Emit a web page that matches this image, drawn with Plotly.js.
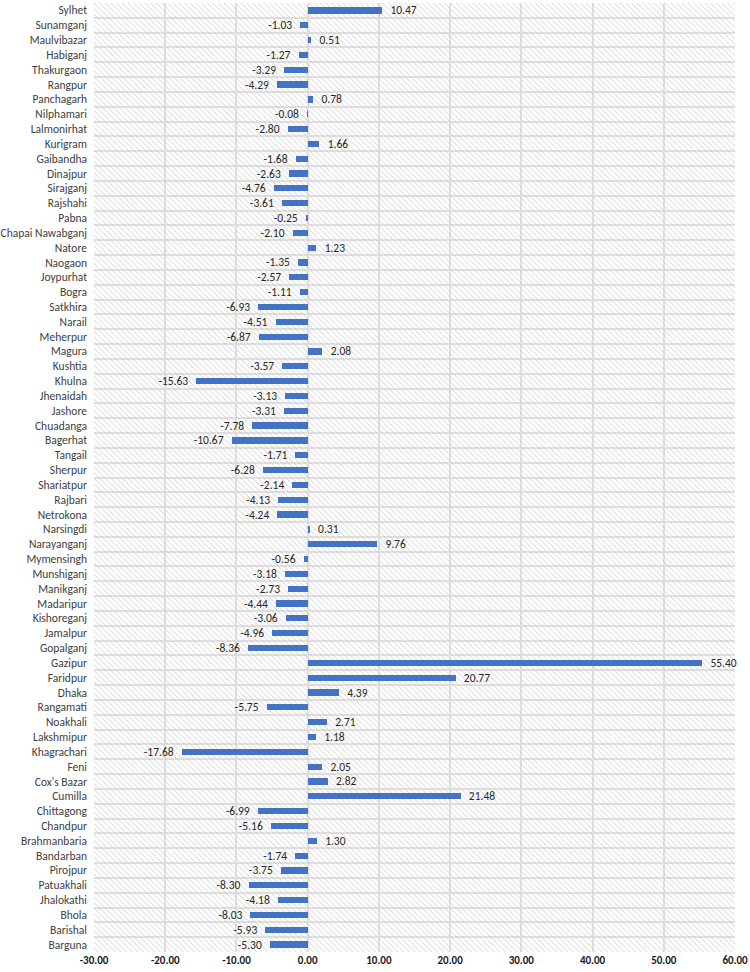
<!DOCTYPE html>
<html>
<head>
<meta charset="utf-8">
<script src="https://cdn.plot.ly/plotly-3.0.1.min.js"></script>
<style>
  html, body { margin: 0; padding: 0; background: #fff; }
  #chart { width: 750px; height: 972px; }
</style>
</head>
<body>
<div id="chart"></div>
<script>
// districts top to bottom, as in the picture
const districts = [
  "Sylhet", "Sunamganj", "Maulvibazar", "Habiganj", "Thakurgaon", "Rangpur",
  "Panchagarh", "Nilphamari", "Lalmonirhat", "Kurigram", "Gaibandha", "Dinajpur",
  "Sirajganj", "Rajshahi", "Pabna", "Chapai Nawabganj", "Natore", "Naogaon",
  "Joypurhat", "Bogra", "Satkhira", "Narail", "Meherpur", "Magura", "Kushtia",
  "Khulna", "Jhenaidah", "Jashore", "Chuadanga", "Bagerhat", "Tangail", "Sherpur",
  "Shariatpur", "Rajbari", "Netrokona", "Narsingdi", "Narayanganj", "Mymensingh",
  "Munshiganj", "Manikganj", "Madaripur", "Kishoreganj", "Jamalpur", "Gopalganj",
  "Gazipur", "Faridpur", "Dhaka", "Rangamati", "Noakhali", "Lakshmipur",
  "Khagrachari", "Feni", "Cox's Bazar", "Cumilla", "Chittagong", "Chandpur",
  "Brahmanbaria", "Bandarban", "Pirojpur", "Patuakhali", "Jhalokathi", "Bhola",
  "Barishal", "Barguna"
];

const values = [
  10.47, -1.03, 0.51, -1.27, -3.29, -4.29,
  0.78, -0.08, -2.80, 1.66, -1.68, -2.63,
  -4.76, -3.61, -0.25, -2.10, 1.23, -1.35,
  -2.57, -1.11, -6.93, -4.51, -6.87, 2.08, -3.57,
  -15.63, -3.13, -3.31, -7.78, -10.67, -1.71, -6.28,
  -2.14, -4.13, -4.24, 0.31, 9.76, -0.56,
  -3.18, -2.73, -4.44, -3.06, -4.96, -8.36,
  55.40, 20.77, 4.39, -5.75, 2.71, 1.18,
  -17.68, 2.05, 2.82, 21.48, -6.99, -5.16,
  1.30, -1.74, -3.75, -8.30, -4.18, -8.03,
  -5.93, -5.30
];

const xMin = -30;
const xMax = 60;
const xTicks = [-30, -20, -10, 0, 10, 20, 30, 40, 50, 60];

const font = "Calibri, Carlito, Lato, 'Open Sans', sans-serif";
const gap = "\u00a0\u00a0";

// hatched row bands behind the bars
const bands = {
  type: "bar",
  orientation: "h",
  y: districts,
  x: districts.map(() => xMax - xMin),
  base: xMin,
  width: 1,
  marker: {
    color: "rgba(255,255,255,0)",
    line: { width: 0 },
    pattern: {
      shape: "\\",
      size: 4,
      solidity: 0.2,
      fgcolor: "#c8c8c8",
      bgcolor: "rgba(255,255,255,0)"
    }
  },
  hoverinfo: "skip",
  showlegend: false
};

const bars = {
  type: "bar",
  orientation: "h",
  y: districts,
  x: values,
  width: 0.42,
  marker: { color: "#4472C4" },
  // extra space between bar end and label, on the side the label sits
  texttemplate: values.map(v => v >= 0 ? gap + "%{x:.2f}" : "%{x:.2f}" + gap),
  textposition: "outside",
  constraintext: "none",
  cliponaxis: false,
  textfont: { family: font, size: 11.5, color: "#262626" },
  showlegend: false
};

const layout = {
  width: 750,
  height: 972,
  margin: { l: 94, r: 15, t: 3, b: 20 },
  paper_bgcolor: "#ffffff",
  plot_bgcolor: "#ffffff",
  barmode: "overlay",
  bargap: 0,
  font: { family: font, size: 11.5, color: "#404040" },
  xaxis: {
    range: [xMin, xMax],
    tickvals: xTicks,
    ticktext: xTicks.map(v => "<b>" + v.toFixed(2) + "</b>"),
    showgrid: true,
    gridcolor: "#e0e0e0",
    gridwidth: 2,
    zeroline: false,
    showline: false,
    ticks: "",
    tickfont: { family: font, size: 11, color: "#1a1a1a" }
  },
  yaxis: {
    type: "category",
    autorange: "reversed",
    tickson: "boundaries",
    showgrid: true,
    gridcolor: "#e0e0e0",
    gridwidth: 2,
    showline: false,
    ticks: "",
    ticklabelstandoff: 6,
    tickfont: { family: font, size: 11.5, color: "#404040" }
  }
};

Plotly.newPlot("chart", [bands, bars], layout, { displayModeBar: false, staticPlot: true });
</script>
</body>
</html>
